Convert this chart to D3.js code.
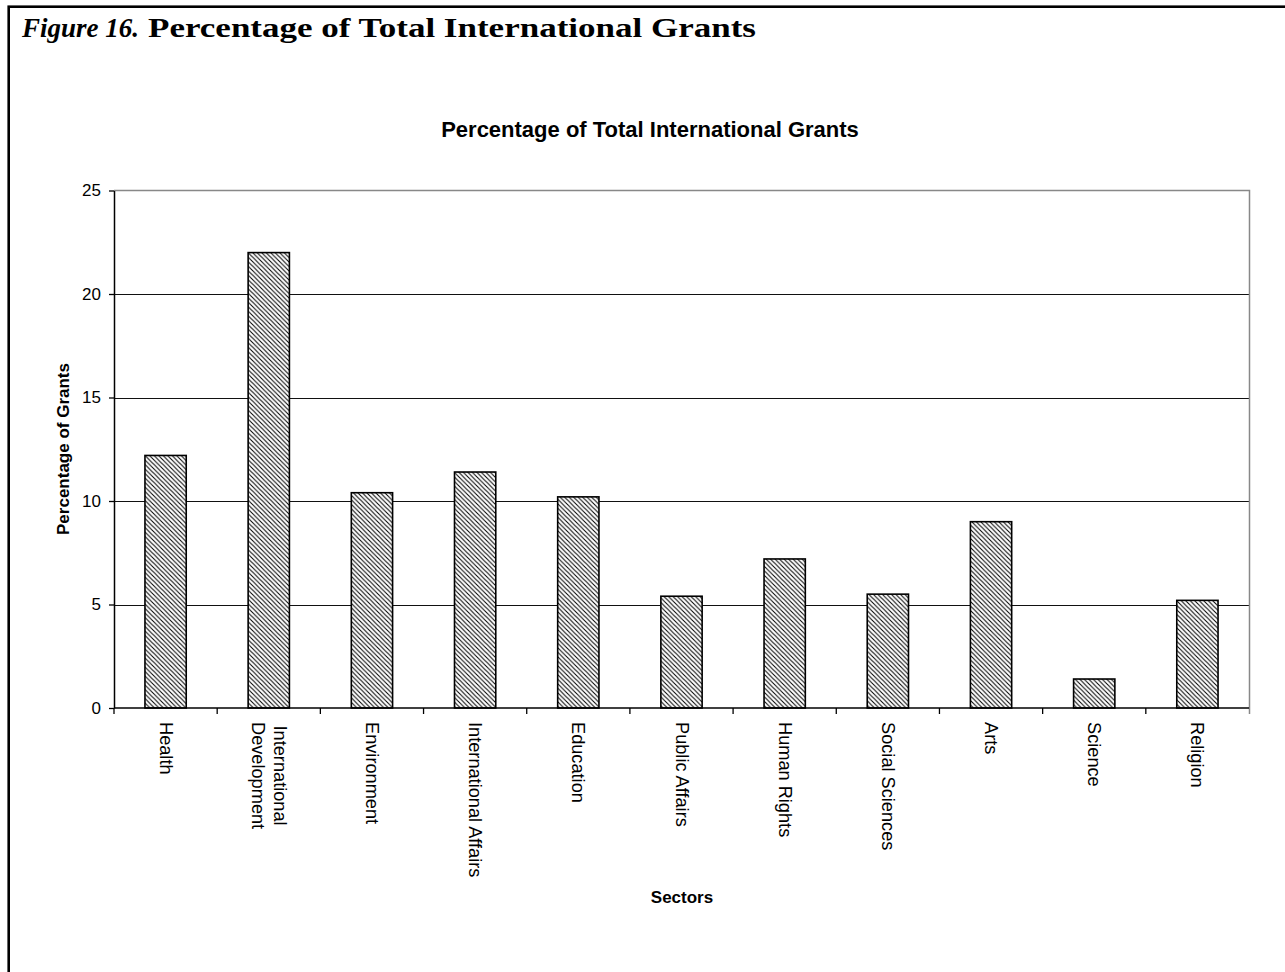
<!DOCTYPE html>
<html>
<head>
<meta charset="utf-8">
<script src="https://cdn.jsdelivr.net/npm/d3@7"></script>
<style>
  html, body { margin: 0; padding: 0; background: #fff; }
  svg { display: block; }
</style>
</head>
<body>
<svg id="chart" width="1285" height="972"></svg>
<script>
// Sector shares of total international grants (percent)
const sectors = [
  ["Health"],
  ["International", "Development"],
  ["Environment"],
  ["International Affairs"],
  ["Education"],
  ["Public Affairs"],
  ["Human Rights"],
  ["Social Sciences"],
  ["Arts"],
  ["Science"],
  ["Religion"]
];
const percentages = [12.2, 22.0, 10.4, 11.4, 10.2, 5.4, 7.2, 5.5, 9.0, 1.4, 5.2];
const yTicks = [0, 5, 10, 15, 20, 25];

const svg = d3.select("#chart");

// Hatch pattern for the bars
const hp = 4.5;
const defs = svg.append("defs");
const pat = defs.append("pattern")
  .attr("id", "hatch")
  .attr("patternUnits", "userSpaceOnUse")
  .attr("width", hp).attr("height", hp);
pat.append("rect").attr("width", hp).attr("height", hp).attr("fill", "#fff");
pat.append("path")
  .attr("d", `M-1,-1 L${hp + 1},${hp + 1} M-1,${hp - 1} L1,${hp + 1} M${hp - 1},-1 L${hp + 1},1`)
  .attr("stroke", "#000").attr("stroke-width", 1.05);

// Page frame
svg.append("rect")
  .attr("x", 8.7).attr("y", 6.7)
  .attr("width", 1400).attr("height", 1100)
  .attr("fill", "none").attr("stroke", "#000").attr("stroke-width", 2.6);

// Figure caption
const serif = "'Liberation Serif', 'Times New Roman', serif";
svg.append("text")
  .attr("x", 22).attr("y", 37)
  .attr("font-family", serif)
  .attr("font-size", 27).attr("font-weight", "bold").attr("font-style", "italic")
  .text("Figure 16.");
svg.append("text")
  .attr("x", 148).attr("y", 37)
  .attr("font-family", serif)
  .attr("font-size", 28).attr("font-weight", "bold")
  .attr("textLength", 608).attr("lengthAdjust", "spacingAndGlyphs")
  .text("Percentage of Total International Grants");

// Plot geometry
const plotLeft = 114, plotRight = 1249, plotTop = 190.5, plotBottom = 708;

const x = d3.scaleBand()
  .domain(sectors.map(d => d.join(" ")))
  .range([plotLeft, plotRight])
  .paddingInner(0.6)
  .paddingOuter(0.3);

const y = d3.scaleLinear().domain([0, 25]).range([plotBottom, plotTop]);

// Chart title
svg.append("text")
  .attr("x", 650).attr("y", 137)
  .attr("text-anchor", "middle")
  .attr("font-family", "Arial, 'Liberation Sans', sans-serif")
  .attr("font-size", 22).attr("font-weight", "bold")
  .text("Percentage of Total International Grants");

// Gridlines
svg.append("g")
  .selectAll("line")
  .data(yTicks.filter(t => t > 0 && t < 25))
  .join("line")
  .attr("x1", plotLeft).attr("x2", plotRight)
  .attr("y1", d => Math.round(y(d)) + 0.5).attr("y2", d => Math.round(y(d)) + 0.5)
  .attr("stroke", "#111").attr("stroke-width", 1);

// Plot border (top and right)
svg.append("path")
  .attr("d", `M${plotLeft},${plotTop} H${plotRight + 0.5} V${plotBottom + 6}`)
  .attr("fill", "none").attr("stroke", "#888").attr("stroke-width", 1.5);

// Bars
svg.append("g")
  .selectAll("rect")
  .data(percentages)
  .join("rect")
  .attr("x", (d, i) => x(sectors[i].join(" ")))
  .attr("y", d => y(d))
  .attr("width", x.bandwidth())
  .attr("height", d => plotBottom - y(d))
  .attr("fill", "url(#hatch)")
  .attr("stroke", "#000").attr("stroke-width", 1.6);

// Y axis
const yAxis = svg.append("g")
  .attr("transform", `translate(${plotLeft},0)`)
  .call(d3.axisLeft(y).tickValues(yTicks).tickSize(5).tickSizeOuter(0).tickPadding(8));
yAxis.select(".domain").attr("stroke", "#000").attr("stroke-width", 1.5);
yAxis.selectAll(".tick line").attr("stroke", "#000").attr("stroke-width", 1.3);
yAxis.selectAll(".tick text")
  .attr("font-family", "Arial, 'Liberation Sans', sans-serif")
  .attr("font-size", 17).attr("fill", "#000");

// X axis line and ticks between categories
svg.append("line")
  .attr("x1", plotLeft).attr("x2", plotRight)
  .attr("y1", plotBottom).attr("y2", plotBottom)
  .attr("stroke", "#000").attr("stroke-width", 1.5);
const boundaries = d3.range(sectors.length).map(i => plotLeft + i * x.step());
svg.append("g")
  .selectAll("line")
  .data(boundaries)
  .join("line")
  .attr("x1", d => d).attr("x2", d => d)
  .attr("y1", plotBottom).attr("y2", plotBottom + 6)
  .attr("stroke", "#000").attr("stroke-width", 1.3);

// Category labels, rotated to read downward
const labelFont = "Arial, 'Liberation Sans', sans-serif";
const labels = svg.append("g")
  .selectAll("text")
  .data(sectors)
  .join("text")
  .attr("transform", d => `translate(${x(d.join(" ")) + x.bandwidth() / 2},722) rotate(90)`)
  .attr("font-family", labelFont)
  .attr("font-size", 18.2)
  .attr("fill", "#000");

labels.each(function (lines) {
  const t = d3.select(this);
  const n = lines.length;
  const lh = 22;
  const spans = lines.map((s, k) =>
    t.append("tspan")
      .attr("x", 0)
      .attr("y", (k - (n - 1) / 2) * lh)
      .attr("dominant-baseline", "central")
      .text(s)
  );
  if (n > 1) {
    const lens = spans.map(sp => sp.node().getComputedTextLength());
    const maxLen = d3.max(lens);
    spans.forEach((sp, k) => sp.attr("x", (maxLen - lens[k]) / 2));
  }
});

// Axis titles
svg.append("text")
  .attr("transform", "translate(69,449) rotate(-90)")
  .attr("text-anchor", "middle")
  .attr("font-family", labelFont)
  .attr("font-size", 17).attr("font-weight", "bold")
  .text("Percentage of Grants");

svg.append("text")
  .attr("x", 682).attr("y", 903)
  .attr("text-anchor", "middle")
  .attr("font-family", labelFont)
  .attr("font-size", 17).attr("font-weight", "bold")
  .text("Sectors");
</script>
</body>
</html>
